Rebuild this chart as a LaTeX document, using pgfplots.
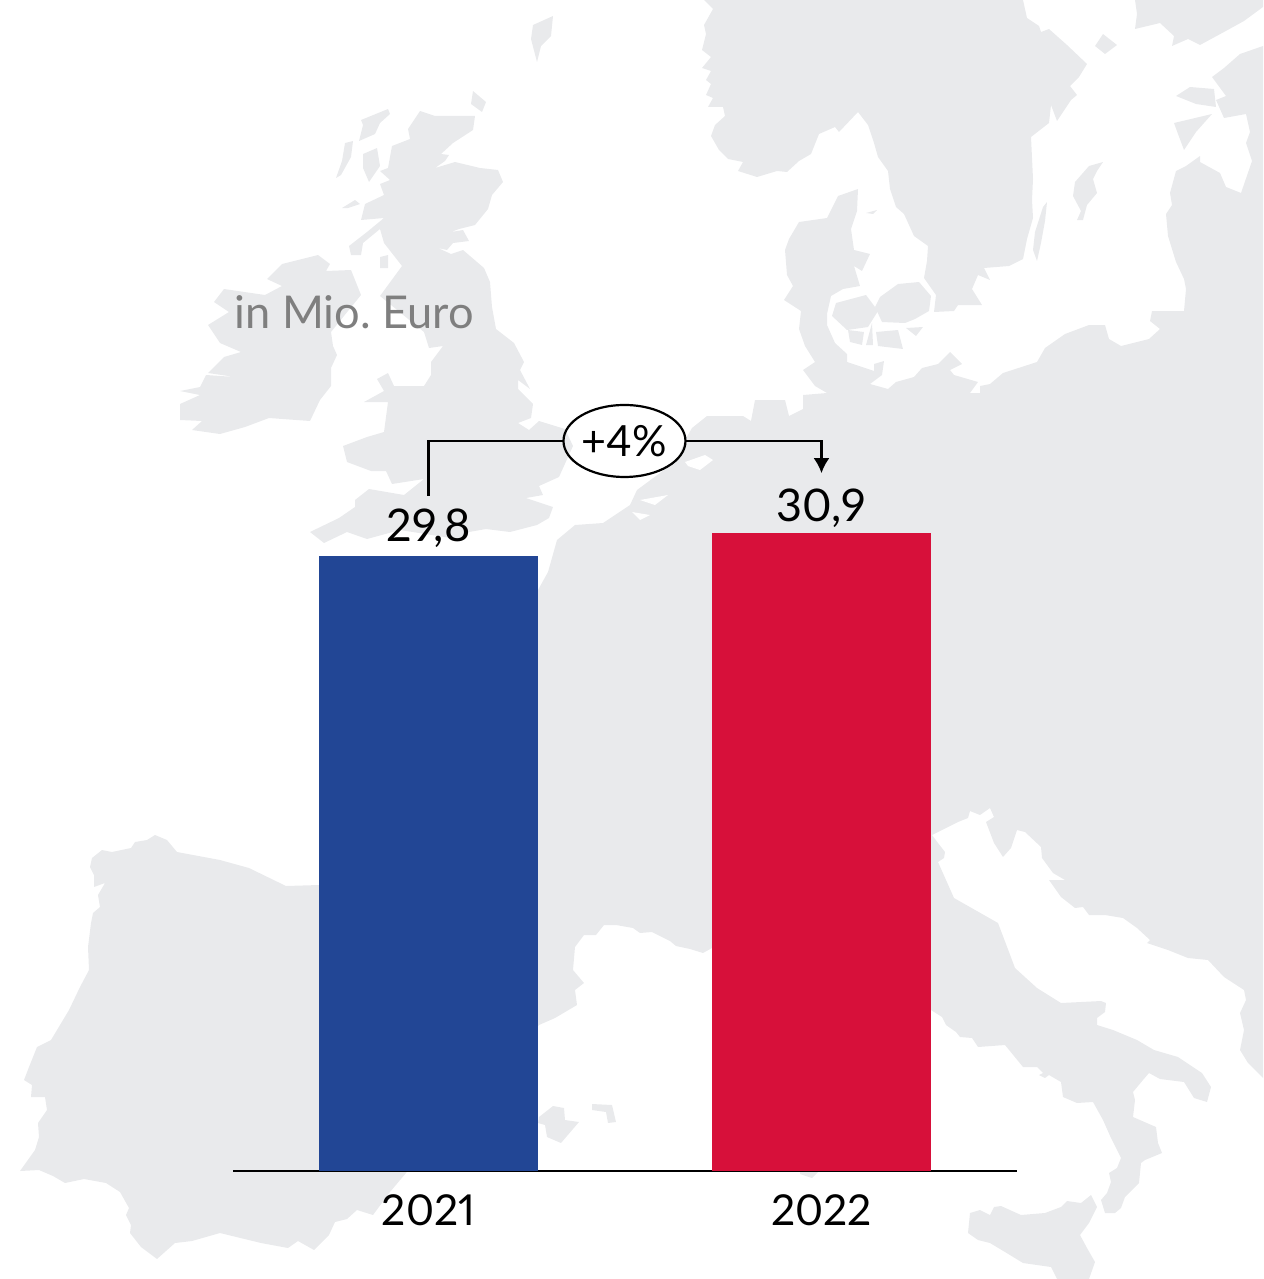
\documentclass[border=0pt]{standalone}
\usepackage{fontspec}
\setmainfont{Lato}[Numbers=Proportional]
\usepackage{pgfplots}
\pgfplotsset{compat=1.18}
\usetikzlibrary{arrows.meta,shapes.geometric}
\definecolor{mapgray}{HTML}{E9EAEC}
\definecolor{barblue}{HTML}{224695}
\definecolor{barred}{HTML}{D7103A}
\definecolor{unitgray}{HTML}{7F7F7F}
\pgfplotsset{land/.style={fill=mapgray,draw=none,forget plot},
  sea/.style={fill=white,draw=none,forget plot}}
\begin{document}
\begin{tikzpicture}
\path[use as bounding box] (0,0) rectangle (631.5pt,639.5pt);
% background map, in pixel coordinates of the picture
\begin{axis}[
    at={(0,0)}, anchor=south west,
    scale only axis, width=631.5pt, height=639.5pt,
    xmin=0, xmax=1263, ymin=0, ymax=1279,
    y dir=reverse, hide axis]
  % continent
  \addplot[land] coordinates {
    (319,885)(286,886)(249,868)(220,860)(177,852)(167,840)(155,835)(147,840)(135,842)(131,848)
    (112,852)(102,850)(92,858)(90,867)(94,875)(94,887)(105,883)(98,895)(100,907)(93,913)
    (91,923)(88,947)(89,970)(80,987)(69,1010)(51,1040)(37,1047)(29,1067)(24,1080)(32,1085)
    (31,1097)(45,1097)(47,1110)(38,1123)(39,1137)(35,1150)(20,1171)(39,1170)(53,1176)(65,1183)
    (84,1179)(106,1183)(120,1192)(129,1208)(126,1215)(131,1225)(130,1233)(141,1247)(157,1259)
    (175,1243)(192,1241)(220,1233)(261,1243)(288,1248)(298,1241)(314,1250)(329,1235)(335,1222)
    (347,1219)(357,1210)(373,1215)(390,1192)(406,1173)(430,1140)(539,1025)(555,1018)(577,1005)
    (575,990)(584,983)(573,970)(575,947)(584,935)(596,935)(604,925)(616,925)(633,928)(640,933)
    (652,932)(670,941)(676,946)(690,949)(703,953)(712,948)(931,1010)(942,1017)(946,1025)(956,1032)
    (960,1037)(972,1038)(978,1047)(1005,1045)(1023,1067)(1037,1067)(1043,1073)(1039,1075)(1045,1078)
    (1049,1075)(1061,1082)(1063,1097)(1077,1103)(1093,1102)(1103,1120)(1111,1138)(1121,1158)(1117,1168)
    (1109,1173)(1111,1182)(1107,1193)(1101,1200)(1105,1213)(1115,1213)(1121,1208)(1125,1197)(1139,1183)
    (1141,1163)(1145,1160)(1162,1153)(1158,1143)(1156,1127)(1133,1117)(1135,1100)(1133,1092)(1143,1080)
    (1149,1073)(1160,1079)(1184,1082)(1194,1098)(1207,1102)(1211,1087)(1202,1073)(1178,1057)(1154,1050)
    (1137,1040)(1113,1030)(1097,1025)(1097,1018)(1105,1012)(1106,1003)(1101,1001)(1061,1003)(1037,988)
    (1015,968)(1009,952)(998,923)(954,898)(938,862)(944,858)(945,852)(938,843)(932,835)(946,828)
    (958,822)(968,818)(970,811)(980,815)(990,808)(994,817)(986,822)(994,843)(1003,857)(1011,848)
    (1017,830)(1025,832)(1041,847)(1042,858)(1053,873)(1065,880)(1049,880)(1061,897)(1075,908)(1083,907)
    (1089,915)(1105,915)(1123,918)(1137,928)(1150,940)(1147,943)(1168,950)(1188,958)(1208,960)(1224,977)
    (1244,990)(1246,1000)(1240,1013)(1244,1030)(1240,1050)(1248,1063)(1263,1078)
    (1263,46)(1240,54)(1224,68)(1212,77)(1226,96)(1216,100)(1224,118)(1246,114)(1250,132)(1246,143)
    (1252,161)(1241,193)(1226,187)(1220,173)(1200,162)(1200,156)(1186,166)(1176,171)(1170,193)(1172,205)
    (1166,214)(1168,236)(1176,262)(1184,279)(1186,289)(1184,311)(1152,311)(1150,321)(1160,329)(1149,339)
    (1121,346)(1109,339)(1105,325)(1089,325)(1065,334)(1045,348)(1037,362)(1003,373)(990,384)(980,386)
    (980,393)(970,393)(978,382)(954,375)(950,370)(962,364)(950,352)(938,364)(922,368)(914,377)(896,382)
    (888,389)(870,384)(882,375)(884,361)(874,364)(874,371)(847,362)(847,354)(835,343)(827,325)(827,314)
    (831,296)(843,289)(860,286)(854,266)(862,271)(870,254)(854,250)(851,229)(857,211)(858,189)
    (838,196)(827,218)(799,222)(789,239)(785,250)(787,275)(793,286)(784,300)(801,311)(799,329)(805,346)
    (815,362)(803,370)(815,386)(827,393)(803,395)(803,409)(789,416)(785,400)(755,400)(751,421)(743,416)
    (707,416)(692,428)(685,440)(678,458)(660,473)(637,490)(630,505)(603,523)(575,525)(557,540)(548,572)
    (538,590)(530,600)(330,800)};
  % Scandinavia
  \addplot[land] coordinates {
    (704,0)(713,9)(704,25)(706,34)(702,50)(711,57)(702,68)(711,71)(706,80)(711,84)(706,95)(713,98)
    (708,107)(723,107)(725,116)(715,125)(711,136)(719,150)(728,159)(743,162)(738,171)(757,177)(777,171)
    (787,172)(799,161)(811,154)(819,134)(835,127)(839,132)(858,112)(868,125)(874,143)(878,157)(888,171)
    (890,189)(896,207)(904,214)(914,236)(928,246)(927,261)(924,278)(936,295)(934,312)(954,311)(958,305)
    (982,305)(972,289)(978,275)(990,280)(984,268)(1009,266)(1023,259)(1027,239)(1033,218)(1032,200)
    (1033,179)(1031,137)(1049,123)(1051,105)(1057,121)(1071,100)(1077,95)(1070,86)(1079,77)(1087,64)
    (1067,45)(1049,29)(1041,32)(1039,26)(1027,18)(1023,0)};
  % Finland
  \addplot[land] coordinates {
    (1135,0)(1137,14)(1135,29)(1160,23)(1174,36)(1172,46)(1188,39)(1200,45)(1224,32)(1244,21)(1263,7)(1263,0)};
  % Baltic islands
  \addplot[land] coordinates {(1103,162)(1097,171)(1093,179)(1097,193)(1087,205)(1083,220)(1077,220)(1081,211)(1073,196)(1075,182)(1089,166)};
  \addplot[land] coordinates {(1047,202)(1045,221)(1041,243)(1037,261)(1033,250)(1035,232)(1043,207)};
  \addplot[land] coordinates {(1176,96)(1190,87)(1214,89)(1216,107)(1196,104)};
  \addplot[land] coordinates {(1174,123)(1212,114)(1196,132)(1184,150)(1178,134)};
  \addplot[land] coordinates {(1103,34)(1117,45)(1105,54)(1095,46)};
  % Danish islands
  \addplot[land] coordinates {(836,303)(866,295)(878,311)(868,327)(847,330)(832,316)};
  \addplot[land] coordinates {(880,297)(898,284)(919,282)(931,296)(929,311)(915,319)(905,323)(882,322)(875,307)};
  \addplot[land] coordinates {(876,332)(898,330)(903,349)(878,346)};
  \addplot[land] coordinates {(848,330)(864,332)(862,345)(850,342)};
  \addplot[land] coordinates {(866,345)(872,323)(873,345)};
  \addplot[land] coordinates {(906,328)(923,327)(916,336)};
  \addplot[land] coordinates {(866,213)(877,210)(873,214)};
  % Great Britain
  \addplot[land] coordinates {
    (420,111)(435,116)(449,116)(475,116)(473,130)(453,143)(441,154)(449,155)(445,161)(435,168)(455,162)
    (480,168)(498,170)(503,182)(492,195)(488,209)(475,225)(459,229)(451,232)(463,230)(469,241)(453,243)
    (447,250)(438,248)(451,254)(463,250)(484,268)(490,282)(492,307)(496,329)(514,343)(524,362)(520,370)
    (530,389)(518,380)(518,389)(533,404)(531,418)(518,423)(529,430)(539,421)(565,429)(573,446)(559,477)
    (539,486)(543,495)(526,498)(553,507)(549,518)(537,525)(510,532)(486,529)(469,532)(457,539)(400,530)
    (367,539)(347,532)(324,543)(310,532)(339,518)(355,507)(355,500)(369,489)(404,495)(424,479)(392,484)
    (386,471)(371,471)(347,462)(343,446)(367,437)(384,432)(388,402)(364,402)(384,391)(377,379)(388,373)
    (394,386)(424,386)(431,375)(431,362)(443,346)(429,348)(424,332)(380,296)(402,266)(384,243)(380,229)
    (363,243)(361,255)(351,255)(349,246)(367,232)(384,218)(361,220)(365,204)(384,195)(380,184)(390,180)
    (380,171)(388,168)(392,146)(410,139)(408,129)};
  % Scottish islands
  \addplot[land] coordinates {(361,120)(388,109)(390,114)(380,123)(375,134)(359,141)(363,125)};
  \addplot[land] coordinates {(345,143)(353,141)(351,157)(341,175)(336,178)(342,161)};
  \addplot[land] coordinates {(363,154)(377,148)(380,166)(369,182)(363,168)};
  \addplot[land] coordinates {(380,257)(388,255)(388,268)(380,268)};
  \addplot[land] coordinates {(473,91)(486,102)(482,112)(471,104)};
  \addplot[land] coordinates {(533,25)(553,16)(551,36)(541,46)(537,62)(531,39)};
  \addplot[land] coordinates {(342,208)(355,200)(360,204)(348,208)};
  % Ireland
  \addplot[land] coordinates {
    (282,264)(318,255)(330,264)(326,271)(351,270)(361,295)(331,332)(333,346)(337,355)(331,368)(331,386)
    (320,400)(310,421)(269,418)(245,427)(220,434)(192,430)(202,421)(180,420)(180,404)(200,395)(180,391)
    (200,387)(206,375)(235,377)(208,373)(224,357)(241,352)(220,343)(208,325)(229,312)(214,302)(224,289)
    (265,295)(282,286)(267,279)};
  % Mediterranean islands
  \addplot[land] coordinates {(539,1117)(553,1106)(564,1108)(565,1120)(579,1122)(561,1143)(547,1137)(545,1125)(538,1123)};
  \addplot[land] coordinates {(592,1104)(612,1105)(616,1122)(608,1123)(606,1112)(592,1110)};
  \addplot[land] coordinates {(800,1160)(830,1160)(812,1178)(800,1174)};
  \addplot[land] coordinates {
    (970,1213)(980,1210)(990,1215)(994,1207)(1001,1206)(1021,1215)(1045,1213)(1061,1207)(1067,1201)(1081,1203)
    (1091,1195)(1097,1207)(1089,1223)(1080,1235)(1087,1248)(1095,1262)(1089,1279)(1057,1279)(1051,1267)
    (1023,1263)(1005,1252)(990,1243)(978,1240)(968,1233)};
  % inlets
  \addplot[sea] coordinates {(685,462)(705,455)(713,460)(700,470)(688,466)};
  \addplot[sea] coordinates {(640,500)(668,495)(655,505)};
  \addplot[sea] coordinates {(632,512)(650,515)(640,520)};
  \node[anchor=base west, inner sep=0pt, text=unitgray, font=\fontsize{22.6pt}{26pt}\selectfont]
    at (axis cs:234,328) {in Mio.\ Euro};
\end{axis}
% bars
\begin{axis}[
    at={(116.5pt,54pt)}, anchor=south west,
    scale only axis, width=392pt, height=412.9pt,
    xmin=-0.4975, xmax=1.4975, ymin=0, ymax=40,
    axis x line=bottom, axis y line=none,
    axis line style={-, black, line width=1pt},
    ybar, bar width=109.5pt, bar shift=0pt,
    xtick={0,1}, xticklabels={2021,2022},
    major tick length=0pt,
    xticklabel style={anchor=base, yshift=-27pt, inner sep=0pt, font=\fontsize{21.3pt}{26pt}\selectfont},
    /pgf/number format/assume math mode=true,
    /pgf/number format/use comma,
    /pgf/number format/fixed,
    /pgf/number format/fixed zerofill,
    /pgf/number format/precision=1,
    nodes near coords,
    every node near coord/.append style={anchor=base, inner sep=0pt,
      font=\fontsize{22.5pt}{26pt}\selectfont, black}]
  \addplot[fill=barblue, draw=none, every node near coord/.append style={yshift=7.3pt}]
    coordinates {(0,29.8)};
  \addplot[fill=barred, draw=none, every node near coord/.append style={yshift=6pt}]
    coordinates {(1,30.9)};
  % +4% bracket
  \draw[line width=1.2pt] (axis cs:0,32.7) -- (axis cs:0,35.36) -- (axis cs:0.345,35.36);
  \draw[line width=1.2pt, -{Latex[length=7.5pt,width=8pt]}] (axis cs:0.656,35.36) -- (axis cs:1,35.36) -- (axis cs:1,33.8);
  \node[draw, ellipse, line width=1.1pt, minimum width=61pt, minimum height=36pt, inner sep=0pt,
    font=\fontsize{21.5pt}{25pt}\selectfont] at (axis cs:0.4987,35.36) {+4\%};
\end{axis}
\end{tikzpicture}
\end{document}
